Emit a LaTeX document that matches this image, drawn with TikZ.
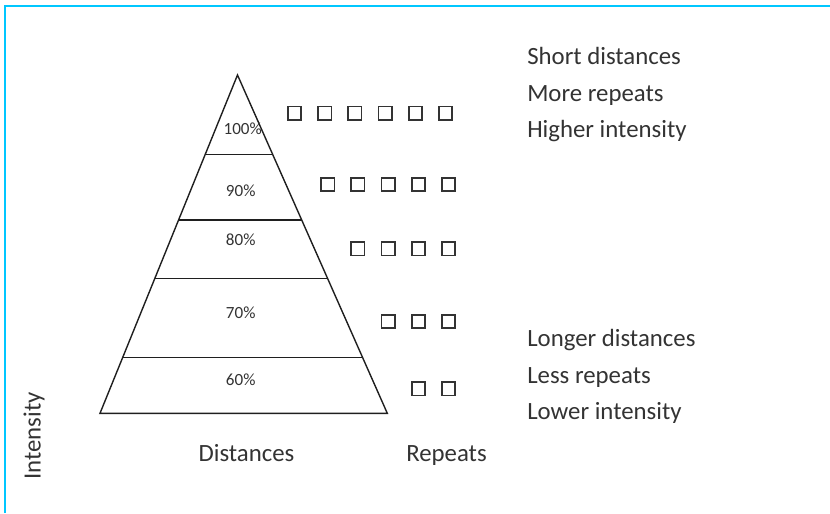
\documentclass[tikz,border=0pt]{standalone}
\usepackage{fontspec}
\setmainfont{Carlito}
\usetikzlibrary{calc}
\newlength{\du}
\setlength{\du}{0.75pt}
\definecolor{framecyan}{rgb}{0.000000, 0.780000, 1.000000}
\definecolor{textgray}{rgb}{0.200000, 0.200000, 0.200000}
\definecolor{linegray}{rgb}{0.120000, 0.120000, 0.120000}
\tikzset{
  repbox/.style={draw=textgray, line width=1.7\du, minimum size=13.3\du, inner sep=0pt},
  pct/.style={font=\fontsize{12.8pt}{14pt}\selectfont, text=textgray, inner sep=0pt},
  lbl/.style={font=\fontsize{18.6pt}{22pt}\selectfont, text=textgray, inner sep=0pt, anchor=base west},
}

\begin{document}
\begin{tikzpicture}[x=1\du, y=-1\du]
\useasboundingbox (0,0) rectangle (830,513);
\draw[framecyan, line width=2\du] (4.5,513) -- (4.5,6) -- (830,6);
% pyramid
\coordinate (apex) at (237.5,75);
\coordinate (baseL) at (100,413.3);
\coordinate (baseR) at (387.3,413.3);
\draw[linegray, line width=1.4\du, line join=miter] (apex) -- (baseL) -- (baseR) -- cycle;
\foreach \t/\i in {0.235/1, 0.4286/2, 0.602/3, 0.8354/4}
{
\draw[linegray, line width=1.4\du] ($(apex)!\t!(baseL)$) coordinate (cutL\i) -- ($(apex)!\t!(baseR)$) coordinate (cutR\i);
}
\node[pct] (p100) at (242.7,128.7) {100\%};
\node[pct] (p90) at (240.7,190.7) {90\%};
\node[pct] (p80) at (240.7,240) {80\%};
\node[pct] (p70) at (240.7,312.7) {70\%};
\node[pct] (p60) at (240.7,380) {60\%};
% repeats
\foreach \row/\n/\yy/\dx in {1/6/113.3/-3, 2/5/184.4/0, 3/4/248.7/0, 4/3/321.3/0, 5/2/388.7/0}
{
\foreach \k in {1,...,\n}
{
\node[repbox] (r\row-\k) at ({448.5+\dx-30.2*(\n-\k)},\yy) {};
}
}
% texts
\node[lbl] (short) at (527,64.5) {Short distances};
\node[lbl] (more) at (527,101.5) {More repeats};
\node[lbl] (higher) at (527,137.3) {Higher intensity};
\node[lbl] (longer) at (527,346.7) {Longer distances};
\node[lbl] (less) at (527,383.3) {Less repeats};
\node[lbl] (lower) at (527,419.3) {Lower intensity};
\node[lbl] (dist) at (198.3,461.7) {Distances};
\node[lbl] (reps) at (406,461.7) {Repeats};
\node[lbl, rotate=90] (intens) at (40.5,480) {Intensity};
\end{tikzpicture}
\end{document}
